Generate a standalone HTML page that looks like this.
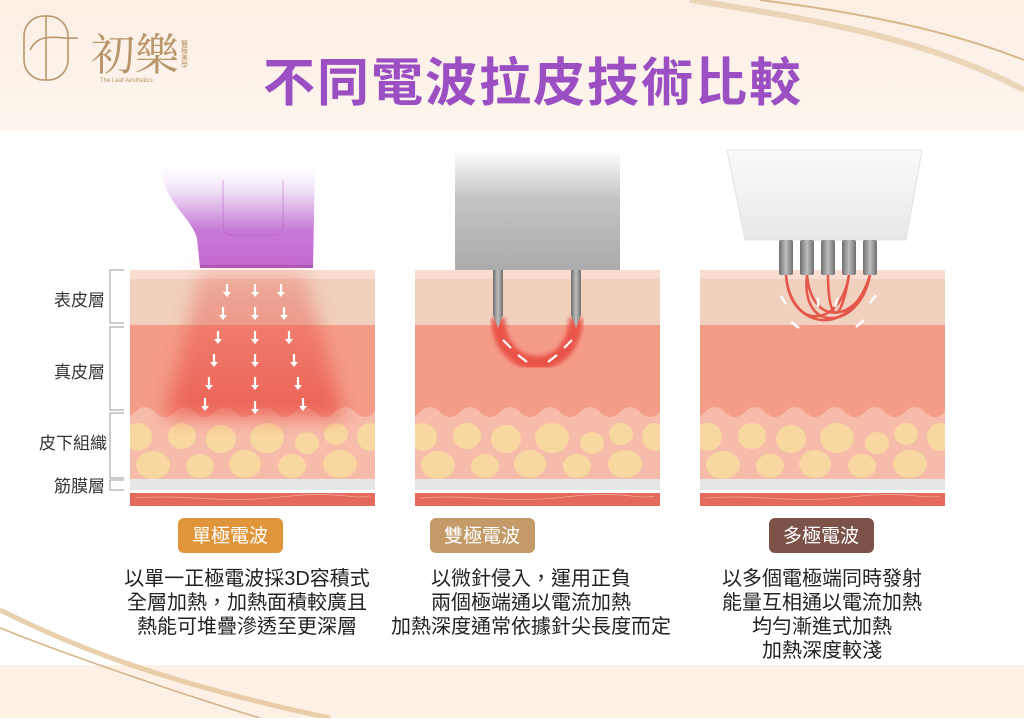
<!DOCTYPE html>
<html><head><meta charset="utf-8"><style>
body{margin:0;width:1024px;height:718px;overflow:hidden;background:#fff;font-family:"Liberation Sans","Noto Sans CJK TC",sans-serif}
</style></head><body>
<svg width="1024" height="718" viewBox="0 0 1024 718" xmlns="http://www.w3.org/2000/svg">
<defs>
<linearGradient id="topbg" x1="0" y1="0" x2="0" y2="1"><stop offset="0" stop-color="#fcefe4"/><stop offset="1" stop-color="#fdf5ee"/></linearGradient>
<linearGradient id="purp" x1="0" y1="160" x2="0" y2="268" gradientUnits="userSpaceOnUse"><stop offset="0" stop-color="#fff" stop-opacity="0"/><stop offset="0.3" stop-color="#efdcf5"/><stop offset="0.65" stop-color="#c779d6"/><stop offset="1" stop-color="#c468d2"/></linearGradient>
<linearGradient id="grey" x1="0" y1="0" x2="0" y2="1"><stop offset="0" stop-color="#fff"/><stop offset="0.4" stop-color="#c4c4c4"/><stop offset="1" stop-color="#ababab"/></linearGradient>
<linearGradient id="white" x1="0" y1="0" x2="0" y2="1"><stop offset="0" stop-color="#fafafa"/><stop offset="1" stop-color="#e8e8e8"/></linearGradient>
<linearGradient id="pin" x1="0" y1="0" x2="1" y2="0"><stop offset="0" stop-color="#6f6f6f"/><stop offset="0.5" stop-color="#bdbdbd"/><stop offset="1" stop-color="#6f6f6f"/></linearGradient>
<linearGradient id="heat" x1="0" y1="0" x2="0" y2="1"><stop offset="0" stop-color="#e8584c" stop-opacity="0.3"/><stop offset="1" stop-color="#e8443a" stop-opacity="0.65"/></linearGradient>
<filter id="blur"><feGaussianBlur stdDeviation="9"/></filter>
<filter id="blur2"><feGaussianBlur stdDeviation="2"/></filter>
<clipPath id="pc"><rect x="0" y="270" width="245" height="236"/></clipPath>
<g id="skin" clip-path="url(#pc)">
<rect x="0" y="270" width="245" height="10" fill="#f8ddd0"/>
<rect x="0" y="279" width="245" height="47" fill="#f1d0bd"/>
<rect x="0" y="325" width="245" height="155" fill="#f7bca9"/>
<path d="M0 325 H245 V412 q-10 10 -20 0 t-20 0 t-20 0 t-20 0 t-20 0 t-20 0 t-20 0 t-20 0 t-20 0 t-20 0 t-20 0 t-20 0 t-5 0Z" fill="#f59c89"/>
<g fill="#f8d7a0">
<ellipse cx="8" cy="437" rx="14" ry="14"/><ellipse cx="52" cy="436" rx="14" ry="13"/><ellipse cx="91" cy="439" rx="15" ry="14"/><ellipse cx="137" cy="438" rx="17" ry="15"/><ellipse cx="177" cy="443" rx="12" ry="11"/><ellipse cx="206" cy="434" rx="12" ry="11"/><ellipse cx="240" cy="437" rx="13" ry="14"/>
<ellipse cx="23" cy="465" rx="17" ry="14"/><ellipse cx="70" cy="466" rx="14" ry="12"/><ellipse cx="115" cy="464" rx="16" ry="14"/><ellipse cx="162" cy="466" rx="14" ry="12"/><ellipse cx="210" cy="464" rx="17" ry="14"/>
</g>
<rect x="0" y="479" width="245" height="11" fill="#e6e6e6"/>
<rect x="0" y="490" width="245" height="3" fill="#fff"/>
<rect x="0" y="493" width="245" height="13" fill="#e56a5c"/>
<path d="M5 498 C60 494 90 504 150 497 S220 500 240 496" stroke="#f4a396" stroke-width="0.8" fill="none"/>
</g>
<g id="arr"><path d="M0 -6 V4" stroke="#fff" stroke-width="2.2"/><path d="M-4 2 L0 7 L4 2Z" fill="#fff"/></g>
</defs>
<rect width="1024" height="130" fill="url(#topbg)"/>
<rect y="665" width="1024" height="53" fill="#fdf1e6"/>
<path d="M690 0 C820 20 930 40 1024 90" stroke="#e5c9a2" stroke-width="6" fill="none" opacity="0.7"/>
<path d="M760 0 C880 15 960 35 1024 60" stroke="#d9b98c" stroke-width="2" fill="none"/>
<path d="M0 610 C60 640 150 680 330 718" stroke="#e3c49a" stroke-width="5" fill="none" opacity="0.8"/>
<path d="M0 628 C80 660 200 700 260 718" stroke="#d6b184" stroke-width="1.5" fill="none"/>
<!-- logo -->
<g stroke="#b8956a" stroke-width="1.6" fill="none"><rect x="24" y="16" width="44" height="64" rx="20"/><path d="M30 50 C40 30 60 40 78 38"/><path d="M46 16 V80"/></g>
<text x="91" y="70" font-size="44" fill="#b8956a" font-family="'Noto Serif CJK SC',serif">初樂</text>
<text x="100" y="82" font-size="6" fill="#b8956a">The Leaf Aesthetics</text>
<text x="184" y="40" font-size="7" fill="#b8956a" writing-mode="tb">醫療美學</text>
<text x="533" y="101" text-anchor="middle" font-size="52" font-weight="bold" fill="#9b4fc2" letter-spacing="2">不同電波拉皮技術比較</text>
<!-- panels -->
<use href="#skin" x="130"/><use href="#skin" x="415"/><use href="#skin" x="700"/>
<!-- labels -->
<g font-size="17" fill="#333" text-anchor="end"><text x="105" y="306">表皮層</text><text x="105" y="378">真皮層</text><text x="107" y="449">皮下組織</text><text x="105" y="492">筋膜層</text></g>
<g stroke="#999" stroke-width="1" fill="none"><path d="M124 270 H110 V323 H124"/><path d="M124 327 H110 V410 H124"/><path d="M124 413 H110 V478 H124"/><path d="M124 480 H110 V490 H124"/></g>
<!-- panel1 device + heat -->
<path d="M160 165 H315 L313 268 H200 L197 238 C190 215 165 205 160 165Z" fill="url(#purp)"/>
<path d="M223 180 V225 Q223 235 233 235 H273 Q283 235 283 225 V180" fill="none" stroke="#b35cc4" stroke-width="1" opacity="0.5"/>
<rect x="200" y="265" width="113" height="3" fill="#8e4a9c" opacity="0.5"/>
<path d="M200 272 H305 L345 418 H165Z" fill="url(#heat)" filter="url(#blur)"/>
<g><use href="#arr" x="227" y="290"/><use href="#arr" x="255" y="290"/><use href="#arr" x="281" y="290"/>
<use href="#arr" x="223" y="313"/><use href="#arr" x="255" y="313"/><use href="#arr" x="284" y="313"/>
<use href="#arr" x="218" y="337"/><use href="#arr" x="255" y="337"/><use href="#arr" x="289" y="337"/>
<use href="#arr" x="214" y="360"/><use href="#arr" x="255" y="360"/><use href="#arr" x="294" y="360"/>
<use href="#arr" x="209" y="383"/><use href="#arr" x="255" y="383"/><use href="#arr" x="298" y="383"/>
<use href="#arr" x="205" y="404"/><use href="#arr" x="255" y="407"/><use href="#arr" x="303" y="404"/></g>
<!-- panel2 -->
<rect x="455" y="150" width="165" height="120" fill="url(#grey)"/>
<path d="M498 318 C500 378 574 378 576 318" stroke="#e8473d" stroke-width="14" fill="none" opacity="0.85" filter="url(#blur2)"/>
<path d="M493 270 H503 V315 L498 328 L493 315Z" fill="url(#pin)"/><path d="M571 270 H581 V315 L576 328 L571 315Z" fill="url(#pin)"/>
<g stroke="#fff" stroke-width="2.2"><path d="M503 340 l8 8"/><path d="M518 355 l9 7"/><path d="M557 355 l-9 7"/><path d="M572 340 l-8 8"/></g>
<!-- panel3 -->
<path d="M727 150 H922 L906 240 H745Z" fill="url(#white)" stroke="#e3e3e3"/>
<g fill="none" stroke="#e5574a" stroke-width="2.5"><path d="M786 275 C790 330 850 340 870 275"/><path d="M807 275 C812 330 860 320 870 275"/><path d="M828 275 C828 320 840 330 849 275"/><path d="M849 275 C840 330 790 330 786 275"/><path d="M870 275 C860 330 800 335 807 275"/></g>
<g fill="url(#pin)"><rect x="779" y="240" width="14" height="35" rx="2"/><rect x="800" y="240" width="14" height="35" rx="2"/><rect x="821" y="240" width="14" height="35" rx="2"/><rect x="842" y="240" width="14" height="35" rx="2"/><rect x="863" y="240" width="14" height="35" rx="2"/></g>
<g stroke="#fff" stroke-width="2.4"><path d="M781 296 l5 8"/><path d="M818 298 l0 9"/><path d="M838 298 l-3 9"/><path d="M876 295 l-6 8"/><path d="M791 322 l8 6"/><path d="M864 320 l-8 7"/></g>
<!-- badges -->
<rect x="178" y="518" width="105" height="35" rx="6" fill="#e1953a"/>
<rect x="430" y="518" width="105" height="35" rx="6" fill="#c49a68"/>
<rect x="769" y="518" width="105" height="35" rx="6" fill="#7d5249"/>
<g font-size="19" fill="#fff" text-anchor="middle"><text x="230" y="542">單極電波</text><text x="482" y="542">雙極電波</text><text x="821" y="542">多極電波</text></g>
<g font-size="20" fill="#222" text-anchor="middle">
<text x="247" y="585">以單一正極電波採3D容積式</text><text x="247" y="609">全層加熱，加熱面積較廣且</text><text x="247" y="633">熱能可堆疊滲透至更深層</text>
<text x="531" y="585">以微針侵入，運用正負</text><text x="531" y="609">兩個極端通以電流加熱</text><text x="531" y="633">加熱深度通常依據針尖長度而定</text>
<text x="822" y="585">以多個電極端同時發射</text><text x="822" y="609">能量互相通以電流加熱</text><text x="822" y="633">均勻漸進式加熱</text><text x="822" y="657">加熱深度較淺</text>
</g>
</svg>
</body></html>
